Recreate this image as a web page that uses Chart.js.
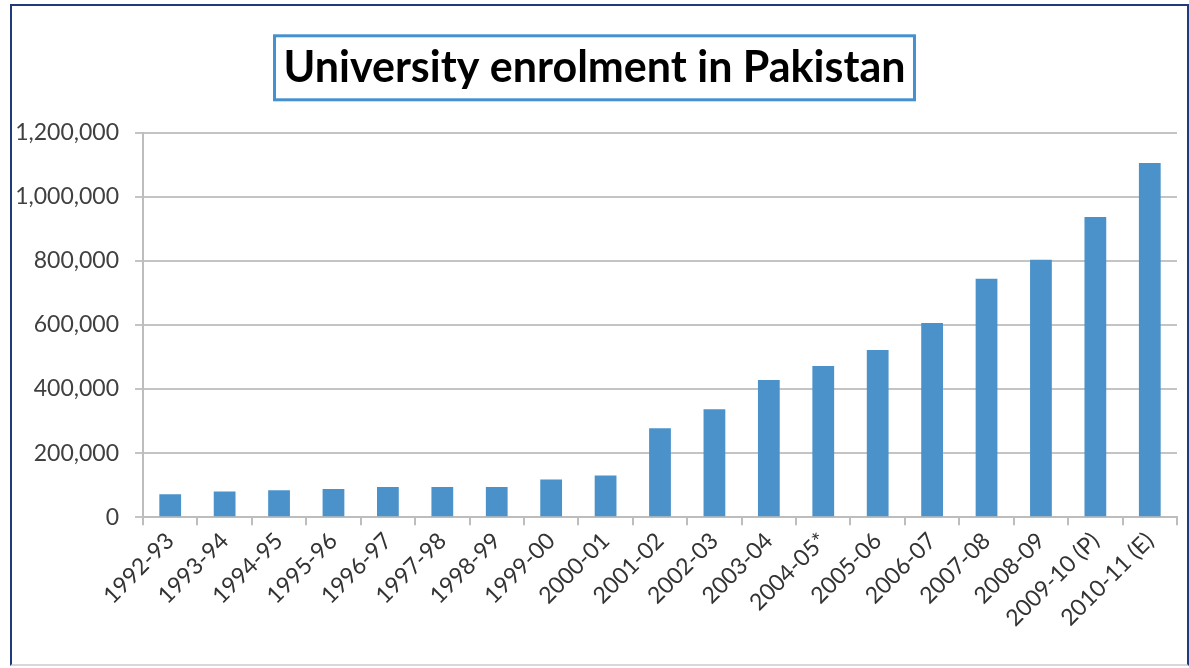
<!DOCTYPE html>
<html>
<head>
<meta charset="utf-8">
<script src="https://cdn.jsdelivr.net/npm/chart.js@4.4.1/dist/chart.umd.min.js"></script>
<style>
  html, body { margin: 0; padding: 0; background: #fff; }
  #frame {
    position: absolute; left: 10px; top: 4px; width: 1175px; height: 658px;
    border: 2px solid #1f3b7c; border-bottom-color: #d8d8d8; background: #fff;
  }
  #wrap { position: absolute; left: 0; top: 0; width: 1175px; height: 658px; }
</style>
</head>
<body>
<div id="frame"><div id="wrap"><canvas id="enrolChart"></canvas></div></div>
<script>
var years = ['1992-93', '1993-94', '1994-95', '1995-96', '1996-97', '1997-98', '1998-99', '1999-00',
    '2000-01', '2001-02', '2002-03', '2003-04', '2004-05*', '2005-06', '2006-07', '2007-08',
    '2008-09', '2009-10 (P)', '2010-11 (E)'];
var enrolment = [72000, 80000, 84000, 88000, 94000, 94000, 94000, 118000,
    130000, 278000, 337000, 428000, 472000, 522000, 606000, 744000,
    803000, 937000, 1105000];
var yTicks = [0, 200000, 400000, 600000, 800000, 1000000, 1200000];

var titleText = 'University enrolment in Pakistan';
var titleFont = 'bold 43px Lato';

// box round the title, like the original
var titleBox = {
    id: 'titleBox',
    afterDraw: function (chart) {
        var t = chart.titleBlock;
        var ctx = chart.ctx;
        var pad = t.options.padding;
        ctx.save();
        ctx.font = titleFont;
        var w = ctx.measureText(titleText).width;
        var cx = (t.left + t.right) / 2;
        var cy = t.top + pad.top + (t.height - pad.top - pad.bottom) / 2;
        ctx.strokeStyle = '#4690cf';
        ctx.lineWidth = 3;
        ctx.strokeRect(cx - w / 2 - 9, cy - 32, w + 18, 64);
        ctx.restore();
    }
};

new Chart(document.getElementById('enrolChart'), {
    type: 'bar',
    data: {
        labels: years,
        datasets: [{
            data: enrolment,
            backgroundColor: '#4a92c9',
            barPercentage: 0.8,
            categoryPercentage: 0.5
        }]
    },
    plugins: [titleBox],
    options: {
        responsive: true,
        maintainAspectRatio: false,
        animation: false,
        layout: { padding: { left: 0, right: 10, top: 0, bottom: 30 } },
        plugins: {
            legend: { display: false },
            tooltip: { enabled: false },
            title: {
                display: true,
                text: titleText,
                color: '#000',
                font: { family: 'Lato', size: 43, weight: 'bold' },
                padding: { top: 36, bottom: 39 }
            }
        },
        scales: {
            x: {
                grid: { display: true, drawOnChartArea: false, color: '#bdbdbd', lineWidth: 2, tickLength: 8 },
                border: { color: '#bdbdbd', width: 2 },
                ticks: {
                    color: '#333',
                    font: { family: 'Lato', size: 23 },
                    minRotation: 45,
                    maxRotation: 45,
                    autoSkip: false,
                    padding: 2
                }
            },
            y: {
                min: 0,
                max: 1200000,
                afterBuildTicks: function (axis) {
                    axis.ticks = yTicks.map(function (v) { return { value: v }; });
                },
                afterFit: function (axis) {
                    axis.width = 131;
                },
                grid: { color: '#c4c4c4', lineWidth: 2, tickLength: 8 },
                border: { color: '#bdbdbd', width: 2 },
                ticks: {
                    color: '#404040',
                    font: { family: 'Lato', size: 23 },
                    padding: 16,
                    callback: function (v) { return v.toLocaleString('en-US'); }
                }
            }
        }
    }
});
</script>
</body>
</html>
